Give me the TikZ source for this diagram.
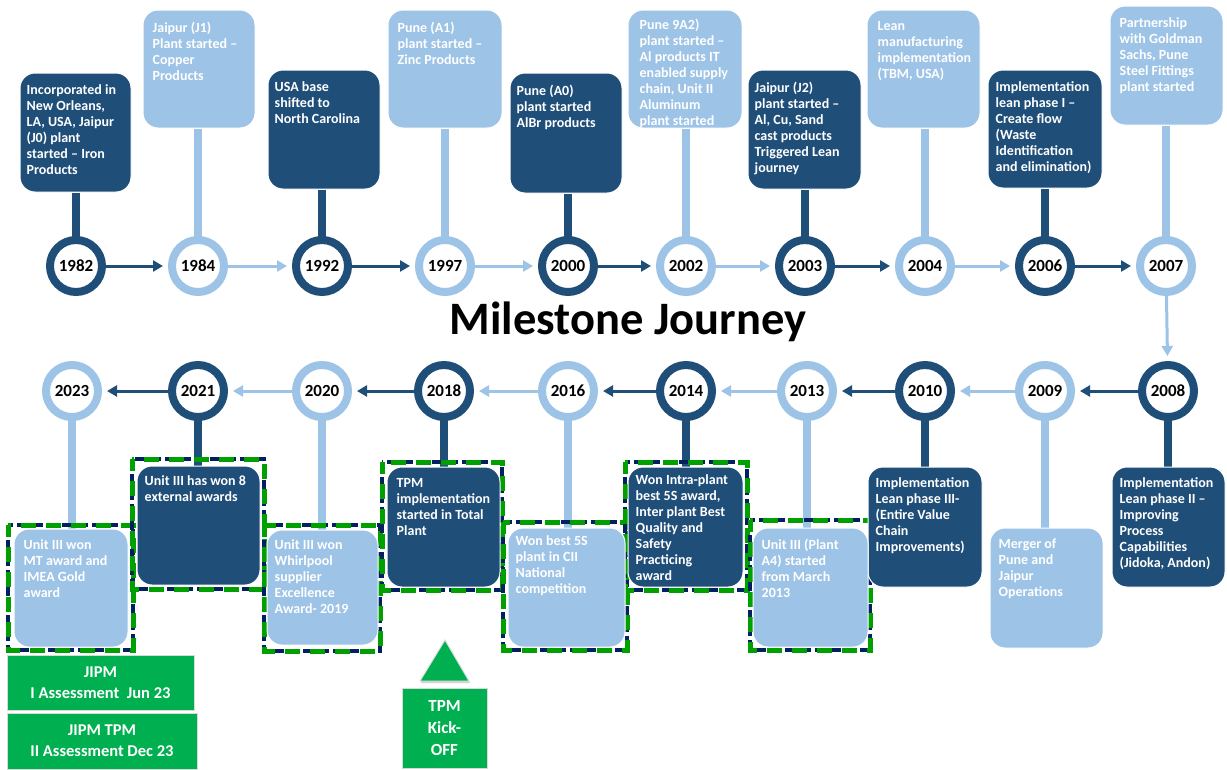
\documentclass[tikz,border=0pt]{standalone}
\usepackage{fontspec}
\setmainfont{Carlito}
\usetikzlibrary{arrows.meta}
\pgfdeclarelayer{back}
\pgfsetlayers{back,main}

\definecolor{navyblk}{HTML}{1F4E79}
\definecolor{skyblk}{HTML}{9DC3E6}
\definecolor{grn}{HTML}{00B050}
\definecolor{dashgrn}{HTML}{00A000}
\definecolor{dashnavy}{HTML}{002060}

\tikzset{
  ring/.style={circle, draw=#1, line width=8pt, fill=white, minimum size=52pt,
    inner sep=0pt, font=\bfseries\fontsize{17}{17}\selectfont},
  evbox/.style={rounded corners=15pt, fill=#1, draw=white, line width=1pt, inner sep=0pt},
  txt/.style={anchor=north west, inner sep=0pt, align=left, text=white,
    font=\bfseries\fontsize{14}{16}\selectfont},
  stem/.style={line width=8pt, draw=#1},
  link/.style={line width=3pt, draw=#1, -{Triangle[length=10pt,width=11pt]}, shorten >=5pt},
  awardA/.style={draw=dashnavy, line width=3.5pt, dash pattern=on 11pt off 4pt},
  awardB/.style={draw=dashgrn, line width=5pt, dash pattern=on 15pt off 10pt, dash phase=3pt},
  gbox/.style={fill=grn, draw=gray!30, line width=1pt, inner sep=0pt, align=center,
    text=white, font=\bfseries\fontsize{16.5}{21}\selectfont},
}

% event box: name, colour, x1, y1, x2, y2, text inset x, text inset y, text
\newcommand\evbox[9]{%
  \node[evbox=#2, minimum width={(#5-#3)*1pt}, minimum height={(#6-#4)*1pt}]
    (#1) at ({(#3+#5)/2},{(#4+#6)/2}) {};
  \node[txt] (#1t) at ([xshift=#7pt,yshift=-#8pt]#1.north west) {#9};}

% award frame around an event box
\newcommand\award[4]{%
  \draw[awardA] (#1,#2) rectangle (#3,#4);
  \draw[awardB] (#1,#2) rectangle (#3,#4);}

\begin{document}
\begin{tikzpicture}[x=1pt,y=-1pt]
\useasboundingbox (0,0) rectangle (1227,769);

% ---- year rings ----
\foreach \yr/\xx/\col in {1982/76/navyblk,1984/198/skyblk,1992/322/navyblk,
    1997/445/skyblk,2000/568/navyblk,2002/686/skyblk,2003/805/navyblk,
    2004/925/skyblk,2006/1045/navyblk,2007/1166/skyblk}
  \node[ring=\col] (c\yr) at (\xx,266) {\yr};
\foreach \yr/\xx/\col in {2008/1168/navyblk,2009/1045/skyblk,2010/925/navyblk,
    2013/807/skyblk,2014/686/navyblk,2016/568/skyblk,2018/444/navyblk,
    2020/322/skyblk,2021/198/navyblk,2023/72/skyblk}
  \node[ring=\col] (c\yr) at (\xx,391) {\yr};

% ---- title ----
\node[anchor=base, inner sep=0pt, font=\bfseries\fontsize{46.5}{46.5}\selectfont]
  (title) at (628,334) {Milestone Journey};

% ---- upper events ----
\evbox{b1982}{navyblk}{20}{73}{131}{192}{7}{12}{Incorporated in\\New Orleans,\\LA, USA, Jaipur\\(J0) plant\\started – Iron\\Products}
\evbox{b1984}{skyblk}{143}{10}{255}{128}{10}{12}{Jaipur (J1)\\Plant started –\\Copper\\Products}
\evbox{b1992}{navyblk}{268}{70}{380}{189}{7}{12}{USA base\\shifted to\\North Carolina}
\evbox{b1997}{skyblk}{388}{10}{502}{128}{10}{12}{Pune (A1)\\plant started –\\Zinc Products}
\evbox{b2000}{navyblk}{510}{73}{622}{193}{7}{12}{Pune (A0)\\plant started\\AlBr products}
\evbox{b2002}{skyblk}{628}{10}{742}{128}{12}{9}{Pune 9A2)\\plant started –\\Al products IT\\enabled supply\\chain, Unit II\\Aluminum\\plant started}
\evbox{b2003}{navyblk}{748}{70}{861}{189}{7}{12}{Jaipur (J2)\\plant started –\\Al, Cu, Sand\\cast products\\Triggered Lean\\journey}
\evbox{b2004}{skyblk}{867}{10}{980}{128}{11}{12}{Lean\\manufacturing\\implementation\\(TBM, USA)}
\evbox{b2006}{navyblk}{988}{70}{1102}{188}{8}{12}{Implementation\\lean phase I –\\Create flow\\(Waste\\Identification\\and elimination)}
\evbox{b2007}{skyblk}{1110}{6}{1223}{125}{10}{12}{Partnership\\with Goldman\\Sachs, Pune\\Steel Fittings\\plant started}

% ---- award frames ----
\award{8}{525}{133}{650}
\award{132}{459}{264}{589}
\award{264}{525}{380}{651}
\award{382}{462}{502}{590}
\award{503}{522}{627}{650}
\award{625}{462}{747}{590}
\award{750}{520}{870}{650}

% ---- lower events ----
\evbox{b2008}{navyblk}{1112}{467}{1225}{587}{8}{11}{Implementation\\Lean phase II –\\Improving\\Process\\Capabilities\\(Jidoka, Andon)}
\evbox{b2009}{skyblk}{990}{528}{1103}{648}{9}{11}{Merger of\\Pune and\\Jaipur\\Operations}
\evbox{b2010}{navyblk}{868}{467}{982}{587}{8}{11}{Implementation\\Lean phase III-\\(Entire Value\\Chain\\Improvements)}
\evbox{b2013}{skyblk}{753}{528}{868}{647}{9}{11}{Unit III (Plant\\A4) started\\from March\\2013}
\evbox{b2014}{navyblk}{628}{467}{743}{587}{8}{8}{Won Intra-plant\\best 5S award,\\Inter plant Best\\Quality and\\Safety\\Practicing\\award}
\evbox{b2016}{skyblk}{508}{528}{625}{647}{8}{8}{Won best 5S\\plant in CII\\National\\competition}
\evbox{b2018}{navyblk}{387}{467}{500}{587}{10}{12}{TPM\\implementation\\started in Total\\Plant}
\evbox{b2020}{skyblk}{267}{530}{378}{645}{8}{10}{Unit III won\\Whirlpool\\supplier\\Excellence\\Award- 2019}
\evbox{b2021}{navyblk}{137}{466}{260}{585}{8}{10}{Unit III has won 8\\external awards}
\evbox{b2023}{skyblk}{14}{529}{128}{647}{10}{11}{Unit III won\\MT award and\\IMEA Gold\\award}

% ---- page ground, stems ----
\begin{pgfonlayer}{back}
  \fill[white] (0,0) rectangle (1227,769);
  \foreach \yr/\col in {1982/navyblk,1984/skyblk,1992/navyblk,1997/skyblk,
      2000/navyblk,2002/skyblk,2003/navyblk,2004/skyblk,2006/navyblk,2007/skyblk}
    \draw[stem=\col] (c\yr.center |- b\yr.south) -- (c\yr.center);
  \foreach \yr/\col in {2008/navyblk,2009/skyblk,2010/navyblk,2013/skyblk,
      2014/navyblk,2016/skyblk,2018/navyblk,2020/skyblk,2021/navyblk,2023/skyblk}
    \draw[stem=\col] (c\yr.center) -- (c\yr.center |- b\yr.north);
\end{pgfonlayer}

% ---- links between years ----
\foreach \a/\b/\col in {1982/1984/navyblk,1984/1992/skyblk,1992/1997/navyblk,
    1997/2000/skyblk,2000/2002/navyblk,2002/2003/skyblk,2003/2004/navyblk,
    2004/2006/skyblk,2006/2007/navyblk,2007/2008/skyblk,
    2008/2009/navyblk,2009/2010/skyblk,2010/2013/navyblk,2013/2014/skyblk,
    2014/2016/navyblk,2016/2018/skyblk,2018/2020/navyblk,2020/2021/skyblk,
    2021/2023/navyblk}
  \draw[link=\col] (c\a) -- (c\b);

% ---- TPM milestones ----
\node[gbox, minimum width=187pt, minimum height=55pt] (jipm1) at (100.5,682.5)
  {JIPM\\I Assessment\ \ Jun 23};
\node[gbox, minimum width=190pt, minimum height=56pt] (jipm2) at (102,741)
  {JIPM TPM\\II Assessment Dec 23};
\fill[gray!35] (421,683) -- (446,642) -- (470,683) -- cycle;
\filldraw[fill=grn, draw=gray!25, line width=1pt] (420,681) -- (445,640) -- (469,681) -- cycle;
\node[gbox, minimum width=85pt, minimum height=80pt, font=\bfseries\fontsize{17}{22}\selectfont]
  (kick) at (444.5,728) {TPM\\Kick-\\OFF};
\end{tikzpicture}
\end{document}
